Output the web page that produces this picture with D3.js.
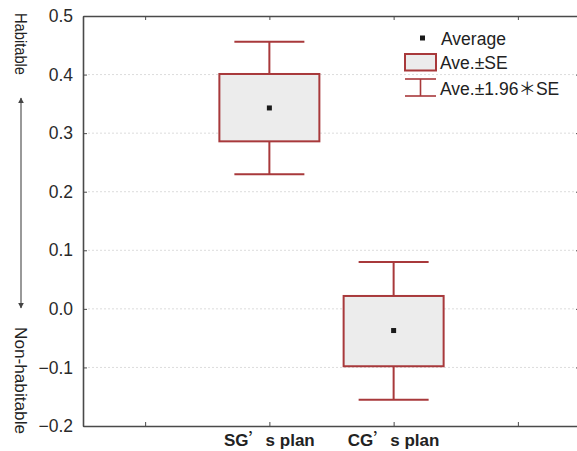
<!DOCTYPE html>
<html>
<head>
<meta charset="utf-8">
<script src="https://cdn.jsdelivr.net/npm/d3@7"></script>
<style>
body { margin: 0; background: #fff; }
svg { display: block; font-family: "Liberation Sans", Arial, sans-serif; }
.grid line { stroke: #dcdcdc; stroke-dasharray: 2,2; }
.cjk { font-family: "Noto Sans CJK SC", sans-serif; }
</style>
</head>
<body>
<script>
//chart values
var groups = ["SG", "CG"];
var groupPos = [1.5, 2.5];
var means = [0.343, -0.037];
var seLow = [0.286, -0.098];
var seHigh = [0.401, 0.022];
var ciLow = [0.230, -0.155];
var ciHigh = [0.456, 0.080];
var yTicks = [-0.2, -0.1, 0.0, 0.1, 0.2, 0.3, 0.4, 0.5];
var xTicks = [0.5, 1.5, 2.5, 3.5];

var w = 577, h = 451;
var red = "#a8393b";

var svg = d3.select("body")
    .append("svg")
    .attr("width", w)
    .attr("height", h);

var y = d3.scaleLinear()
    .domain([-0.2, 0.5])
    .range([426, 16]);

var x = d3.scaleLinear()
    .domain([0, 4])
    .range([83, 580]);

var fmt = d3.format(".1f");

//dotted gridlines
var grid = svg.append("g")
    .attr("class", "grid")
    .selectAll("line")
    .data(yTicks.slice(1, -1))
    .enter()
    .append("line")
    .attr("x1", x(0) + 5)
    .attr("x2", x(4) - 5)
    .attr("y1", function(d){ return y(d); })
    .attr("y2", function(d){ return y(d); });

//axes
var axisColor = "#4a4a4a";
function styleAxis(g){
    g.select(".domain").attr("stroke", axisColor).attr("stroke-width", 1.6);
    g.selectAll(".tick line").attr("stroke", axisColor);
}

var yAxis = svg.append("g")
    .attr("transform", "translate(" + x(0) + ",0)")
    .call(d3.axisLeft(y).tickValues(yTicks).tickFormat(fmt).tickSizeInner(-4).tickSizeOuter(0).tickPadding(10))
    .call(styleAxis);
yAxis.selectAll("text")
    .attr("font-size", 17.5)
    .attr("font-family", "Liberation Sans, Arial, sans-serif")
    .attr("fill", "#2a2a2a");

var yAxisR = svg.append("g")
    .attr("transform", "translate(" + x(4) + ",0)")
    .call(d3.axisRight(y).tickValues(yTicks).tickFormat("").tickSizeInner(-4).tickSizeOuter(0))
    .call(styleAxis);

var xAxis = svg.append("g")
    .attr("transform", "translate(0," + y(-0.2) + ")")
    .call(d3.axisBottom(x).tickValues(xTicks).tickFormat("").tickSizeInner(-4).tickSizeOuter(0))
    .call(styleAxis);

var xAxisTop = svg.append("g")
    .attr("transform", "translate(0," + y(0.5) + ")")
    .call(d3.axisTop(x).tickValues(xTicks).tickFormat("").tickSizeInner(-4).tickSizeOuter(0))
    .call(styleAxis);

//category labels
var xLabels = svg.selectAll(".xLabels")
    .data(groups)
    .enter()
    .append("text")
    .attr("class", "xLabels")
    .attr("x", function(d, i){ return x(groupPos[i]); })
    .attr("y", 446)
    .attr("text-anchor", "middle")
    .attr("font-size", 17)
    .attr("font-weight", "bold")
    .attr("fill", "#222");
xLabels.append("tspan").text(function(d){ return d; });
xLabels.append("tspan").attr("class", "cjk").attr("font-weight", "normal").text("\u2019");
xLabels.append("tspan").text("s plan");

//whiskers (mean +- 1.96 SE)
var boxW = 100, capW = 70;
var whiskers = svg.selectAll(".whiskers")
    .data(groups)
    .enter()
    .append("g")
    .attr("class", "whiskers")
    .attr("stroke", red)
    .attr("stroke-width", 2);

whiskers.append("line")
    .attr("x1", function(d, i){ return x(groupPos[i]); })
    .attr("x2", function(d, i){ return x(groupPos[i]); })
    .attr("y1", function(d, i){ return y(ciHigh[i]); })
    .attr("y2", function(d, i){ return y(ciLow[i]); });
whiskers.append("line")
    .attr("x1", function(d, i){ return x(groupPos[i]) - capW / 2; })
    .attr("x2", function(d, i){ return x(groupPos[i]) + capW / 2; })
    .attr("y1", function(d, i){ return y(ciHigh[i]); })
    .attr("y2", function(d, i){ return y(ciHigh[i]); });
whiskers.append("line")
    .attr("x1", function(d, i){ return x(groupPos[i]) - capW / 2; })
    .attr("x2", function(d, i){ return x(groupPos[i]) + capW / 2; })
    .attr("y1", function(d, i){ return y(ciLow[i]); })
    .attr("y2", function(d, i){ return y(ciLow[i]); });

//boxes (mean +- SE)
var boxes = svg.selectAll(".boxes")
    .data(groups)
    .enter()
    .append("rect")
    .attr("class", "boxes")
    .attr("x", function(d, i){ return x(groupPos[i]) - boxW / 2; })
    .attr("y", function(d, i){ return y(seHigh[i]); })
    .attr("width", boxW)
    .attr("height", function(d, i){ return y(seLow[i]) - y(seHigh[i]); })
    .attr("fill", "#ececec")
    .attr("stroke", red)
    .attr("stroke-width", 2);

//mean markers
var dots = svg.selectAll(".dots")
    .data(groups)
    .enter()
    .append("rect")
    .attr("class", "dots")
    .attr("x", function(d, i){ return x(groupPos[i]) - 2.5; })
    .attr("y", function(d, i){ return y(means[i]) - 2.5; })
    .attr("width", 5)
    .attr("height", 5)
    .attr("fill", "#1a1a1a");

//legend
var legend = svg.append("g")
    .attr("class", "legend")
    .attr("font-size", 17.5)
    .attr("fill", "#222");

legend.append("rect")
    .attr("x", 420).attr("y", 35.5).attr("width", 5).attr("height", 5)
    .attr("fill", "#1a1a1a");
legend.append("text")
    .attr("x", 441).attr("y", 45).text("Average");

legend.append("rect")
    .attr("x", 405).attr("y", 54).attr("width", 31).attr("height", 16.5)
    .attr("fill", "#ececec").attr("stroke", red).attr("stroke-width", 2);
legend.append("text")
    .attr("x", 440).attr("y", 69).text("Ave.\u00b1SE");

var legErr = legend.append("g")
    .attr("stroke", red).attr("stroke-width", 1.6);
legErr.append("line").attr("x1", 420.5).attr("x2", 420.5).attr("y1", 79).attr("y2", 96);
legErr.append("line").attr("x1", 405).attr("x2", 436).attr("y1", 79).attr("y2", 79);
legErr.append("line").attr("x1", 405).attr("x2", 436).attr("y1", 96).attr("y2", 96);
var legText3 = legend.append("text")
    .attr("x", 440).attr("y", 95);
legText3.append("tspan").text("Ave.\u00b11.96");
legText3.append("tspan").attr("class", "cjk").text("\uff0a");
legText3.append("tspan").text("SE");

//side labels with double arrow
var side = svg.append("g")
    .attr("fill", "#222")
    .attr("font-size", 16);

side.append("text")
    .attr("transform", "translate(14.5,13) rotate(90)")
    .attr("textLength", 62)
    .attr("lengthAdjust", "spacingAndGlyphs")
    .text("Habitable");
side.append("text")
    .attr("transform", "translate(14.5,327) rotate(90)")
    .attr("textLength", 107)
    .attr("lengthAdjust", "spacingAndGlyphs")
    .text("Non-habitable");

var defs = svg.append("defs");
defs.append("marker")
    .attr("id", "ah")
    .attr("viewBox", "0 0 10 10")
    .attr("refX", 9).attr("refY", 5)
    .attr("markerWidth", 5).attr("markerHeight", 6)
    .attr("orient", "auto-start-reverse")
    .append("path")
    .attr("d", "M0,0 L10,5 L0,10 z")
    .attr("fill", "#444");

svg.append("line")
    .attr("x1", 21).attr("x2", 21)
    .attr("y1", 98).attr("y2", 308)
    .attr("stroke", "#555")
    .attr("stroke-width", 1.2)
    .attr("marker-start", "url(#ah)")
    .attr("marker-end", "url(#ah)");
</script>
</body>
</html>
